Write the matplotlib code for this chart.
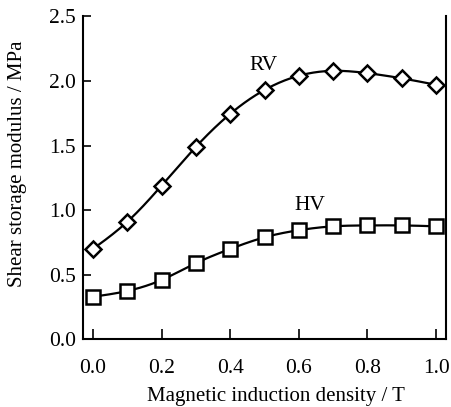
import numpy as np
import matplotlib
matplotlib.use("Agg")
import matplotlib.pyplot as plt

# data
field = [0.0, 0.1, 0.2, 0.3, 0.4, 0.5, 0.6, 0.7, 0.8, 0.9, 1.0]
rv = [0.70, 0.91, 1.19, 1.49, 1.745, 1.93, 2.04, 2.078, 2.06, 2.02, 1.97]
hv = [0.33, 0.375, 0.46, 0.59, 0.70, 0.79, 0.845, 0.875, 0.882, 0.882, 0.875]
ticks_x = [0.0, 0.2, 0.4, 0.6, 0.8, 1.0]
ticks_y = [0.0, 0.5, 1.0, 1.5, 2.0, 2.5]


def natural_spline(x, y, n=300):
    # plain natural cubic spline, just for drawing the smooth line
    x = np.asarray(x, float)
    y = np.asarray(y, float)
    k = len(x)
    h = np.diff(x)
    A = np.zeros((k, k))
    b = np.zeros(k)
    A[0, 0] = A[-1, -1] = 1
    for i in range(1, k - 1):
        A[i, i - 1] = h[i - 1]
        A[i, i] = 2 * (h[i - 1] + h[i])
        A[i, i + 1] = h[i]
        b[i] = 3 * ((y[i + 1] - y[i]) / h[i] - (y[i] - y[i - 1]) / h[i - 1])
    c = np.linalg.solve(A, b)
    xs = np.linspace(x[0], x[-1], n)
    idx = np.clip(np.searchsorted(x, xs) - 1, 0, k - 2)
    dx = xs - x[idx]
    bb = (y[idx + 1] - y[idx]) / h[idx] - h[idx] * (2 * c[idx] + c[idx + 1]) / 3
    dd = (c[idx + 1] - c[idx]) / (3 * h[idx])
    ys = y[idx] + bb * dx + c[idx] * dx ** 2 + dd * dx ** 3
    return xs, ys


plt.rcParams['font.family'] = ['Liberation Serif', 'DejaVu Serif']

fig = plt.figure(figsize=(4.51, 4.07), dpi=100)
ax = fig.add_axes([0.184, 0.166, 0.805, 0.794])

for ys, mk, ms in [(rv, 'D', 8.5), (hv, 's', 10)]:
    sx, sy = natural_spline(field, ys)
    ax.plot(sx, sy, color='black', lw=1.6, zorder=2)
    ax.plot(field, ys, ls='none', marker=mk, ms=ms, mfc='white',
            mec='black', mew=1.8, zorder=3)

ax.text(0.496, 2.12, 'RV', fontsize=15.5, ha='center', va='center')
ax.text(0.633, 1.04, 'HV', fontsize=15.5, ha='center', va='center')

ax.set_xlim(-0.029, 1.029)
ax.set_ylim(0, 2.5)
ax.set_xticks(ticks_x)
ax.set_yticks(ticks_y)
ax.set_xticklabels([f'{t:.1f}' for t in ticks_x])
ax.set_yticklabels([f'{t:.1f}' for t in ticks_y])
ax.tick_params(direction='in', labelsize=15.5, width=1.2, colors='black')
ax.tick_params(axis='x', length=7, pad=14)
ax.tick_params(axis='y', length=6, pad=5)
ax.spines['top'].set_visible(False)
for s in ['left', 'bottom', 'right']:
    ax.spines[s].set_linewidth(1.5)

ax.set_xlabel('Magnetic induction density / T', fontsize=15)
ax.set_ylabel('Shear storage modulus / MPa', fontsize=15)
ax.xaxis.set_label_coords(0.532, -0.147)
ax.yaxis.set_label_coords(-0.153, 0.543)

fig.savefig('out.png', dpi=100)
